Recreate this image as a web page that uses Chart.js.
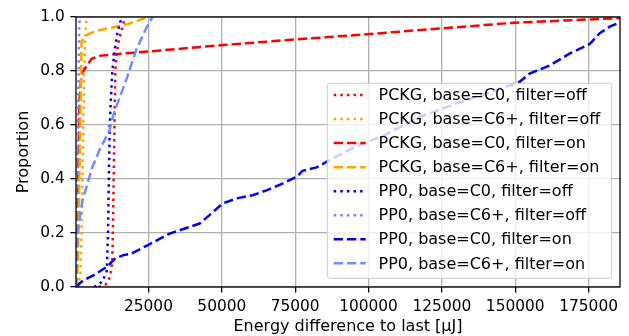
<!DOCTYPE html>
<html>
<head>
<meta charset="utf-8">
<script src="https://cdn.jsdelivr.net/npm/chart.js@4"></script>
<style>
  body { margin: 0; background: #fff; }
  #wrap { width: 629px; height: 336px; }
</style>
</head>
<body>
<div id="wrap"><canvas id="cdf"></canvas></div>
<script>
// ECDF of energy difference, per mode
const seriesLabels = [
  "PCKG, base=C0, filter=off",
  "PCKG, base=C6+, filter=off",
  "PCKG, base=C0, filter=on",
  "PCKG, base=C6+, filter=on",
  "PP0, base=C0, filter=off",
  "PP0, base=C6+, filter=off",
  "PP0, base=C0, filter=on",
  "PP0, base=C6+, filter=on"
];

const pckgC0OffX = [8000, 10500, 12000, 12700, 13000, 13400, 13700, 14100, 15000, 15800, 17000];
const pckgC0OffY = [0, 0.01, 0.04, 0.1, 0.3, 0.6, 0.8, 0.86, 0.92, 0.95, 1.0];

const pckgC6OffX = [1000, 1800, 2200, 2500, 2800, 3100, 3400, 3900];
const pckgC6OffY = [0, 0.05, 0.2, 0.4, 0.6, 0.8, 0.92, 1.0];

const pckgC0OnX = [200, 600, 900, 1200, 1500, 2200, 5600, 8700, 12000, 16500, 20000, 24800,
  50200, 75400, 100400, 125000, 150000, 175000, 185700];
const pckgC0OnY = [0, 0.1, 0.3, 0.5, 0.7, 0.79, 0.845, 0.857, 0.86, 0.865, 0.868, 0.872,
  0.896, 0.917, 0.937, 0.958, 0.979, 0.991, 0.996];

const pckgC6OnX = [500, 1000, 1300, 1600, 1900, 2200, 4500, 7900, 12000, 15400, 18100, 21900, 25300];
const pckgC6OnY = [0, 0.1, 0.3, 0.5, 0.7, 0.91, 0.937, 0.95, 0.96, 0.968, 0.974, 0.989, 1.0];

const pp0C0OffX = [6500, 9300, 10800, 11200, 11500, 11800, 12200, 12700, 13500, 14400, 15300, 16100];
const pp0C0OffY = [0, 0.02, 0.06, 0.2, 0.4, 0.6, 0.7, 0.8, 0.88, 0.94, 0.98, 1.0];

const pp0C6OffX = [300, 500, 700, 900, 1100, 1300, 1500];
const pp0C6OffY = [0, 0.1, 0.3, 0.5, 0.7, 0.9, 1.0];

const pp0C0OnX = [300, 1500, 2800, 6200, 10700, 13700, 16500, 19200, 25300, 32200, 35600, 42400,
  45800, 50200, 55000, 60500, 65200, 70700, 75500, 77500, 82300, 86700, 94600, 105000, 117400,
  130000, 140300, 151500, 154900, 161700, 168600, 175400, 178800, 182200, 185700];
const pp0C0OnY = [0, 0.013, 0.025, 0.043, 0.074, 0.106, 0.118, 0.124, 0.158, 0.198, 0.21, 0.235,
  0.266, 0.309, 0.328, 0.34, 0.358, 0.383, 0.408, 0.43, 0.443, 0.47, 0.514, 0.56, 0.63,
  0.68, 0.717, 0.76, 0.79, 0.82, 0.865, 0.90, 0.94, 0.964, 0.98];

const pp0C6OnX = [300, 500, 800, 2500, 5900, 8300, 11700, 12700, 14100, 17500, 20900, 24300, 26400];
const pp0C6OnY = [0, 0.1, 0.2, 0.32, 0.445, 0.507, 0.58, 0.625, 0.67, 0.77, 0.88, 0.96, 1.0];

const xTicks = [25000, 50000, 75000, 100000, 125000, 150000, 175000];
const yTicks = [0, 0.2, 0.4, 0.6, 0.8, 1.0];

const seriesX = [pckgC0OffX, pckgC6OffX, pckgC0OnX, pckgC6OnX, pp0C0OffX, pp0C6OffX, pp0C0OnX, pp0C6OnX];
const seriesY = [pckgC0OffY, pckgC6OffY, pckgC0OnY, pckgC6OnY, pp0C0OffY, pp0C6OffY, pp0C0OnY, pp0C6OnY];
const colors = ["#ff0000", "#ffa500", "#ff0000", "#ffa500", "#0000ff", "#6e8cff", "#0000ff", "#6e8cff"];

const DOTTED = [2.5, 4.1];
const DASHED = [9.3, 4.0];

const datasets = seriesLabels.map(function (label, i) {
  const xs = seriesX[i], ys = seriesY[i];
  return {
    label: label,
    data: xs.map(function (x, k) { return { x: x, y: ys[k] }; }),
    borderColor: colors[i],
    borderWidth: 2.5,
    borderDash: label.endsWith("off") ? DOTTED : DASHED,
    borderCapStyle: "butt",
    pointRadius: 0,
    tension: 0,
    fill: false,
    order: seriesLabels.length - i
  };
});

const FONT = "'DejaVu Sans', sans-serif";

// box around the axes, drawn over the lines
const framePlugin = {
  id: "frame",
  afterDatasetsDraw(chart) {
    const a = chart.chartArea, ctx = chart.ctx;
    ctx.save();
    ctx.strokeStyle = "#000";
    ctx.lineWidth = 1.3;
    ctx.strokeRect(a.left, a.top, a.right - a.left, a.bottom - a.top);
    ctx.restore();
  }
};

// legend box in the lower right corner of the axes
const legendPlugin = {
  id: "boxLegend",
  afterDraw(chart) {
    const a = chart.chartArea, ctx = chart.ctx;
    const w = 284.4, h = 195, r = 3;
    const x0 = a.right - 8.3 - w, y0 = a.bottom - 8.7 - h;
    ctx.save();
    ctx.beginPath();
    ctx.moveTo(x0 + r, y0);
    ctx.arcTo(x0 + w, y0, x0 + w, y0 + h, r);
    ctx.arcTo(x0 + w, y0 + h, x0, y0 + h, r);
    ctx.arcTo(x0, y0 + h, x0, y0, r);
    ctx.arcTo(x0, y0, x0 + w, y0, r);
    ctx.closePath();
    ctx.fillStyle = "rgba(255,255,255,0.8)";
    ctx.fill();
    ctx.strokeStyle = "#cccccc";
    ctx.lineWidth = 1;
    ctx.stroke();

    ctx.font = "16px " + FONT;
    ctx.textBaseline = "middle";
    ctx.fillStyle = "#000";
    chart.data.datasets.forEach(function (ds, i) {
      const y = y0 + 11.7 + i * 24.05;
      ctx.beginPath();
      ctx.setLineDash(ds.borderDash);
      ctx.lineCap = "butt";
      ctx.strokeStyle = ds.borderColor;
      ctx.lineWidth = ds.borderWidth;
      ctx.moveTo(x0 + 6.4, y);
      ctx.lineTo(x0 + 38.4, y);
      ctx.stroke();
      ctx.setLineDash([]);
      ctx.fillText(ds.label, x0 + 51.2, y + 1);
    });
    ctx.restore();
  }
};

new Chart(document.getElementById("cdf").getContext("2d"), {
  type: "line",
  data: { datasets: datasets },
  plugins: [framePlugin, legendPlugin],
  options: {
    responsive: true,
    maintainAspectRatio: false,
    animation: false,
    layout: { padding: { top: 17, right: 9, left: 0, bottom: 0 } },
    plugins: { legend: { display: false }, tooltip: { enabled: false } },
    scales: {
      x: {
        type: "linear",
        min: 300,
        max: 185700,
        afterBuildTicks: function (scale) {
          scale.ticks = xTicks.map(function (v) { return { value: v }; });
        },
        afterFit: function (scale) { scale.height = 49; },
        ticks: {
          autoSkip: false,
          maxRotation: 0,
          padding: 5.6,
          color: "#000",
          font: { family: FONT, size: 15.4 },
          callback: function (v) { return String(v); }
        },
        grid: { color: "#b0b0b0", lineWidth: 1.3, tickColor: "#000", tickLength: 5.6, tickWidth: 1.3 },
        border: { display: false },
        title: {
          display: true,
          text: "Energy difference to last [μJ]",
          color: "#000",
          font: { family: FONT, size: 16 },
          padding: { top: 0, bottom: 0 }
        }
      },
      y: {
        type: "linear",
        min: 0,
        max: 1,
        afterBuildTicks: function (scale) {
          scale.ticks = yTicks.map(function (v) { return { value: v }; });
        },
        afterFit: function (scale) { scale.width = 76; },
        ticks: {
          padding: 5.6,
          color: "#000",
          font: { family: FONT, size: 15.4 },
          callback: function (v) { return Number(v).toFixed(1); }
        },
        grid: { color: "#b0b0b0", lineWidth: 1.3, tickColor: "#000", tickLength: 5.6, tickWidth: 1.3 },
        border: { display: false },
        title: {
          display: true,
          text: "Proportion",
          color: "#000",
          font: { family: FONT, size: 16 },
          padding: { top: 14, bottom: 0 }
        }
      }
    }
  }
});
</script>
</body>
</html>
